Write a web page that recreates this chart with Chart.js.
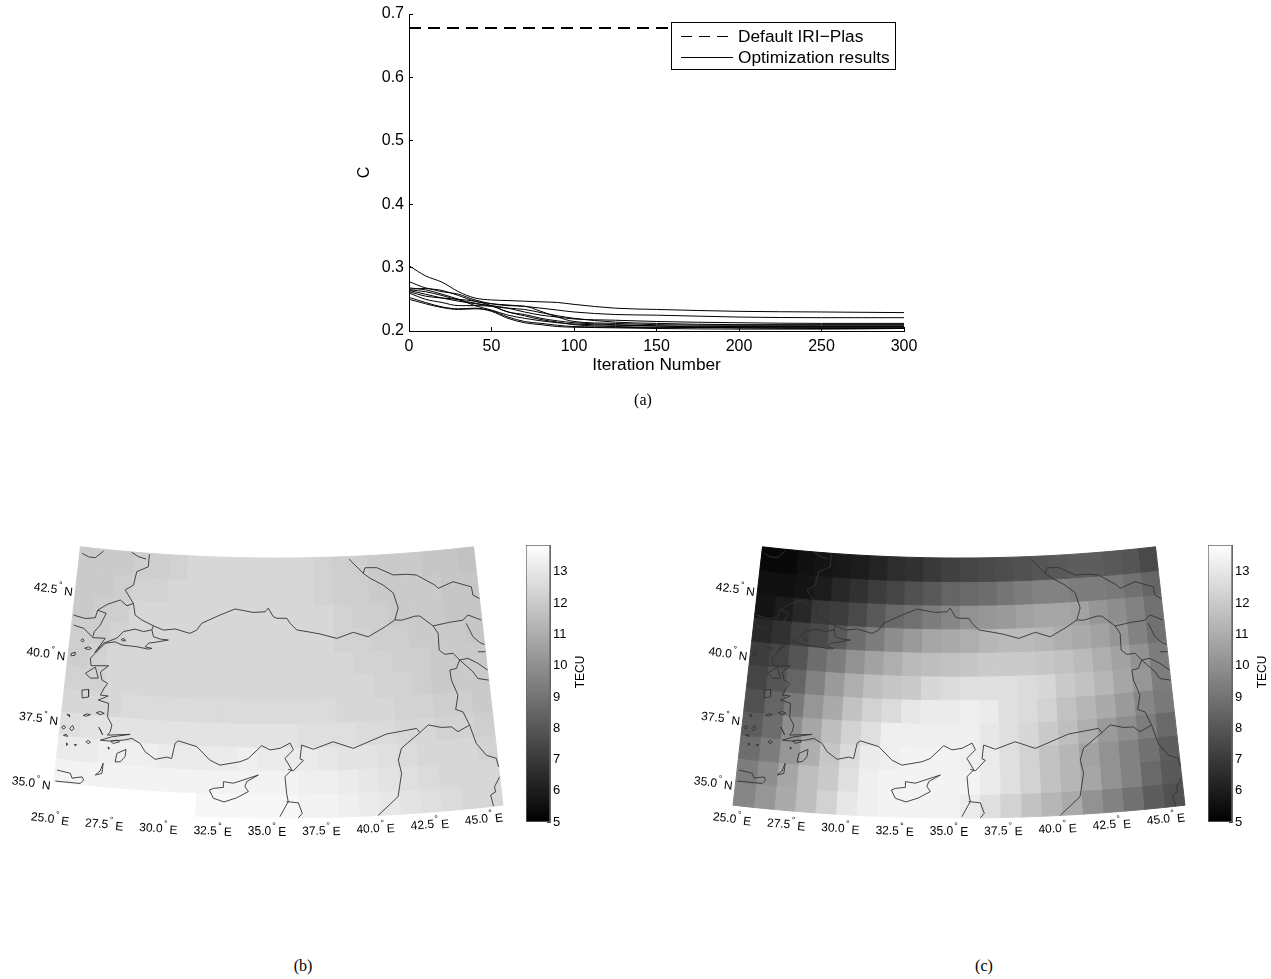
<!DOCTYPE html>
<html>
<head>
<meta charset="utf-8">
<style>
  body { margin: 0; background: #fff; }
  canvas { position: absolute; display: block; }
  .cap { position: absolute; font: 16px "Liberation Serif"; transform: translateX(-50%); }
</style>
<script src="https://cdn.jsdelivr.net/npm/chart.js@4"></script>
</head>
<body>
<canvas id="runs" width="1271" height="420" style="left:0;top:0"></canvas>
<div class="cap" style="left:643px;top:391px">(a)</div>
<canvas id="mapB" width="620" height="320" style="left:0;top:530px"></canvas>
<canvas id="barB" width="100" height="310" style="left:520px;top:530px"></canvas>
<canvas id="mapC" width="620" height="320" style="left:682px;top:530px"></canvas>
<canvas id="barC" width="100" height="310" style="left:1202px;top:530px"></canvas>
<div class="cap" style="left:303px;top:957px">(b)</div>
<div class="cap" style="left:984px;top:957px">(c)</div>
<script>
// panel (a): cost against iteration
const iterations = [0, 10, 20, 30, 40, 50, 60, 70, 80, 90, 100, 125, 150, 200, 250, 300];
const defaultIter = [0, 158];
const defaultC = [0.678, 0.678];
const runA = [.303, .287, .277, .262, .252, .249, .248, .247, .246, .245, .242, .236, .234, .231, .230, .229];
const runB = [.278, .268, .264, .256, .247, .243, .241, .239, .236, .233, .230, .226, .225, .222, .221, .221];
const runC = [.268, .265, .258, .250, .240, .233, .225, .220, .216, .213, .211, .209, .208, .207, .207, .207];
const runD = [.266, .267, .262, .258, .249, .243, .240, .239, .231, .222, .215, .212, .210, .209, .209, .209];
const runE = [.264, .258, .252, .247, .243, .240, .236, .230, .225, .222, .219, .217, .215, .213, .212, .212];
const runF = [.262, .255, .252, .250, .247, .240, .230, .226, .220, .216, .213, .210, .208, .205, .204, .204];
const runG = [.260, .250, .245, .240, .240, .239, .230, .224, .218, .214, .210, .207, .206, .205, .205, .205];
const runH = [.253, .245, .238, .235, .236, .231, .220, .213, .210, .207, .206, .205, .204, .203, .203, .204];
const runI = [.250, .243, .237, .234, .235, .232, .222, .215, .212, .209, .207, .206, .205, .206, .206, .206];
const runJ = [.265, .262, .256, .249, .244, .239, .236, .234, .229, .224, .220, .214, .212, .210, .210, .210];

// panels (b) and (c): TECU per grid cell, north row first, west column first
const tecB = [
  [12.1,12.1,12.1,12.2,12.2,12.3,12.4,12.4,12.4,12.4,12.4,12.4,12.4,12.3,12.2,12.2,12.1,12.1,12.1,11.9,11.9,11.8],
  [12.1,12.1,12.2,12.3,12.3,12.4,12.4,12.4,12.4,12.4,12.4,12.4,12.4,12.3,12.2,12.2,12.1,12.1,12.1,12.0,11.9,11.9],
  [12.1,12.2,12.2,12.4,12.4,12.4,12.4,12.4,12.4,12.4,12.4,12.4,12.4,12.4,12.3,12.2,12.2,12.1,12.1,12.0,11.9,11.9],
  [12.2,12.2,12.3,12.4,12.4,12.4,12.4,12.4,12.4,12.4,12.4,12.4,12.4,12.4,12.3,12.3,12.2,12.2,12.1,12.1,12.0,11.9],
  [12.2,12.3,12.4,12.4,12.4,12.5,12.5,12.5,12.5,12.5,12.5,12.5,12.5,12.4,12.4,12.3,12.3,12.2,12.2,12.1,12.1,12.0],
  [12.3,12.3,12.4,12.4,12.5,12.5,12.5,12.5,12.5,12.5,12.5,12.5,12.5,12.4,12.4,12.4,12.3,12.3,12.2,12.1,12.1,12.0],
  [12.5,12.5,12.5,12.6,12.6,12.6,12.6,12.6,12.6,12.6,12.6,12.6,12.6,12.6,12.5,12.4,12.4,12.3,12.3,12.2,12.2,12.1],
  [12.8,12.9,12.9,12.9,12.9,12.9,12.9,12.9,12.9,12.9,12.9,12.9,12.8,12.8,12.7,12.6,12.6,12.5,12.4,12.3,12.3,12.2],
  [13.2,13.2,13.3,13.3,13.3,13.2,13.2,13.2,13.2,13.3,13.2,13.1,13.1,13.0,12.9,12.9,12.7,12.6,12.5,12.4,12.4,12.3],
  [13.5,13.5,13.5,13.5,13.5,13.5,13.5,13.5,13.5,13.5,13.5,13.4,13.3,13.3,13.1,13.0,12.9,12.8,12.6,12.5,12.4,12.4],
  [13.86,13.86,13.86,13.86,13.86,13.86,13.86,13.6,13.6,13.6,13.6,13.6,13.5,13.5,13.3,13.1,13.0,12.9,12.7,12.6,12.4,12.4]
];
const tecC = [
  [5.3,5.3,5.5,5.7,5.9,6.0,6.3,6.6,6.7,7.0,7.2,7.4,7.6,7.7,7.8,8.0,8.1,8.3,8.3,8.1,8.0,7.6],
  [5.5,5.5,5.7,6.0,6.4,6.7,7.1,7.4,7.8,8.1,8.5,8.6,8.8,9.1,9.3,9.5,9.5,9.4,9.3,9.2,8.9,8.5],
  [5.7,6.0,6.4,6.9,7.1,7.6,8.1,8.6,9.0,9.3,9.7,10.0,10.2,10.4,10.6,10.7,10.7,10.6,10.2,9.9,9.5,9.0],
  [6.4,6.7,7.3,7.6,8.1,8.8,9.3,9.9,10.4,10.7,10.9,11.1,11.3,11.4,11.4,11.3,11.1,10.9,10.6,10.2,9.5,9.0],
  [7.1,7.4,8.0,8.8,9.3,10.0,10.6,11.1,11.4,11.6,11.8,11.9,12.1,12.1,12.1,11.9,11.8,11.4,11.1,10.6,10.0,9.3],
  [7.4,8.0,8.5,9.5,10.4,11.1,11.6,11.9,12.1,12.5,12.6,12.8,12.8,12.8,12.6,12.5,12.1,11.8,11.3,10.7,10.2,9.3],
  [7.8,8.5,9.2,10.2,10.9,11.8,12.3,12.6,13.0,13.2,13.2,13.3,13.2,12.8,12.6,12.3,11.8,11.3,10.9,10.4,9.7,9.2],
  [8.3,8.8,9.9,10.7,11.6,12.3,12.8,13.3,13.3,13.3,13.3,13.3,13.0,12.8,12.5,12.1,11.6,11.1,10.4,9.9,9.3,8.6],
  [8.8,9.3,10.2,11.1,11.9,12.6,13.2,13.3,13.5,13.5,13.5,13.3,13.2,12.8,12.3,11.8,11.3,10.6,10.0,9.5,9.0,8.3],
  [9.3,9.9,10.7,11.6,12.1,12.8,13.3,13.5,13.5,13.5,13.5,13.5,13.2,12.8,12.3,11.8,11.3,10.7,10.0,9.5,8.6,8.1],
  [9.7,10.2,10.9,11.6,12.3,13.0,13.3,13.5,13.5,13.5,13.5,13.2,12.8,12.3,11.8,11.3,10.9,10.0,9.5,9.0,8.3,7.8]
];
const lonTicks = [25, 27.5, 30, 32.5, 35, 37.5, 40, 42.5, 45];
const latTicks = [35, 37.5, 40, 42.5];
const tecuTicks = [5, 6, 7, 8, 9, 10, 11, 12, 13];

// coast and border lines, [lon, lat]
const borderLines = [
  [[25.12,43.76],[25.47,43.65],[25.81,43.65],[26.19,43.93]],
  [[27.62,43.98],[27.97,43.84],[28.37,43.77]],
  [[28.52,43.96],[28.51,43.48],[27.95,43.26],[27.84,42.73],[27.45,42.52],[27.91,42.03],[28.04,41.59],[28.39,41.42],[28.97,41.23]],
  [[25.05,41.36],[25.63,41.28],[26.11,41.35],[26.19,41.65],[26.64,41.91],[27.25,42.12],[27.60,41.92],[27.91,42.03]],
  [[26.19,41.65],[26.62,41.56],[26.39,41.09],[26.13,40.81],[26.09,40.62]],
  [[25.10,40.98],[25.60,40.90],[26.10,40.58],[26.69,40.60],[26.48,40.32],[26.26,40.02],[26.62,40.40],[27.25,40.65],[27.54,40.92],[28.09,41.05],[28.51,40.98],[28.91,41.07],[28.97,41.23]],
  [[28.97,41.23],[29.47,41.09],[30.03,41.16],[30.77,41.02],[31.09,41.16],[31.32,41.43],[32.20,41.77],[32.93,42.02],[33.83,41.90],[34.41,41.93],[34.57,42.07],[34.82,41.74],[35.0,41.68],[35.48,41.68],[35.64,41.49],[35.96,41.23],[36.52,41.15],[37.09,41.06],[37.90,40.87],[38.71,41.08],[39.43,40.88],[40.27,41.23],[40.77,41.47],[40.97,41.92],[40.78,42.51],[40.29,42.84],[39.66,43.13],[39.34,43.33],[38.65,43.9]],
  [[39.34,43.33],[39.44,43.54],[40.03,43.52],[40.84,43.20],[41.51,43.19],[42.00,43.13],[42.87,42.69],[43.02,42.55],[43.79,42.75],[44.67,42.48],[44.70,42.16],[45.0,42.0]],
  [[40.77,41.47],[41.10,41.44],[41.76,41.56],[42.0,41.55],[42.61,41.13],[43.43,41.21],[44.08,41.24],[44.35,41.42],[44.97,41.17]],
  [[42.61,41.13],[42.82,40.83],[42.80,40.18],[43.05,40.0],[43.45,40.01],[43.73,39.73],[44.30,39.23],[44.50,38.95],[45.0,38.84]],
  [[43.73,39.73],[44.13,39.76],[44.58,39.53],[45.0,39.23]],
  [[43.73,39.73],[43.54,39.42],[43.22,39.38],[43.25,38.99],[43.49,38.39],[43.32,37.85],[43.65,37.73],[43.89,37.20],[44.11,36.47],[44.51,35.98],[44.94,35.82],[45.0,35.48]],
  [[45.0,35.10],[44.72,34.74],[44.74,34.54],[44.51,34.44],[44.58,34.01]],
  [[43.89,37.20],[43.33,36.99],[43.05,37.20],[42.59,37.21],[41.99,37.35],[41.58,37.08],[41.44,37.25],[40.05,37.11],[38.49,36.62],[37.58,36.90],[36.66,36.63],[36.13,36.80],[36.05,36.27],[36.20,36.21],[35.74,35.81],[35.51,35.87]],
  [[41.58,37.08],[40.69,36.53],[40.51,36.08],[40.62,35.57],[40.40,34.68],[39.47,34.0]],
  [[28.34,36.85],[28.73,36.68],[28.98,36.38],[29.46,36.11],[29.98,36.22],[30.21,36.18],[30.33,36.77],[30.47,36.87],[31.33,36.68],[31.95,36.18],[32.41,36.0],[33.32,36.15],[33.69,36.28],[34.30,36.78],[34.68,36.62],[35.14,36.68],[35.6,36.88],[35.75,36.62],[35.36,36.29],[35.67,35.85],[35.36,35.59],[35.43,34.95],[35.50,34.63],[35.13,34.05]],
  [[35.43,34.63],[35.95,34.58],[36.12,34.17],[35.94,34.0]],
  [[28.91,41.07],[29.01,40.81],[29.34,40.74],[29.74,40.72],[29.10,40.60],[28.79,40.55],[28.64,40.40],[28.97,40.36],[28.81,40.32],[28.24,40.38],[27.52,40.40],[27.18,40.50],[26.71,40.41],[26.28,39.99],[26.07,39.78],[26.14,39.50],[26.97,39.56],[26.61,39.29],[26.72,38.99],[27.0,38.88],[26.86,38.69],[26.71,38.41],[27.08,38.40],[26.64,38.21],[27.13,38.12],[27.14,37.60],[27.37,37.30],[27.32,37.04],[27.21,36.90],[28.24,37.0],[27.42,36.85],[26.90,36.68],[27.33,36.68],[27.96,36.76],[28.34,36.85]],
  [[44.23,41.10],[44.36,40.83],[44.48,40.57],[44.77,40.32],[45.0,40.22]],
  [[44.64,39.97],[45.0,39.94]],
  // islands
  [[25.91,39.19],[26.35,39.46],[26.54,39.05],[26.16,39.02],[25.91,39.19]],
  [[25.83,38.53],[26.14,38.58],[26.17,38.29],[25.88,38.23],[25.83,38.53]],
  [[25.53,40.43],[25.61,40.50],[25.69,40.43],[25.61,40.37],[25.53,40.43]],
  [[25.75,40.14],[25.93,40.21],[26.08,40.16],[25.93,40.10],[25.75,40.14]],
  [[25.13,39.88],[25.33,39.95],[25.32,39.83],[25.18,39.80],[25.13,39.88]],
  [[27.47,40.62],[27.60,40.65],[27.68,40.58],[27.52,40.56],[27.47,40.62]],
  [[25.25,37.55],[25.40,37.52],[25.38,37.46],[25.25,37.55]],
  [[26.00,37.56],[26.18,37.64],[26.34,37.62],[26.16,37.55],[26.00,37.56]],
  [[26.60,37.72],[26.78,37.78],[26.97,37.72],[26.78,37.66],[26.60,37.72]],
  [[25.45,37.02],[25.57,37.14],[25.65,37.02],[25.54,36.93],[25.45,37.02]],
  [[25.08,37.03],[25.18,37.11],[25.26,37.03],[25.16,36.96],[25.08,37.03]],
  [[25.20,36.72],[25.32,36.78],[25.40,36.70],[25.20,36.72]],
  [[26.78,37.17],[26.88,37.05],[26.98,36.90],[26.90,37.02],[26.78,37.17]],
  [[26.26,36.57],[26.36,36.63],[26.46,36.57],[26.36,36.50],[26.26,36.57]],
  [[25.38,36.45],[25.45,36.40],[25.38,36.35],[25.38,36.45]],
  [[25.74,36.42],[25.84,36.42],[25.80,36.36],[25.74,36.42]],
  [[27.28,36.44],[27.35,36.42],[27.32,36.36],[27.28,36.44]],
  [[27.38,36.67],[27.65,36.74],[27.78,36.68],[27.50,36.60],[27.38,36.67]],
  [[27.66,35.90],[27.71,36.23],[28.11,36.41],[28.09,36.13],[27.89,35.92],[27.66,35.90]],
  [[27.13,35.81],[27.11,35.41],[26.82,35.33],[27.02,35.50],[27.13,35.81]],
  [[25.09,35.37],[25.70,35.30],[25.80,35.12],[26.24,35.21],[26.32,35.09],[26.19,34.95],[25.07,34.94]],
  [[34.16,35.65],[33.64,35.39],[33.56,35.20],[33.72,35.01],[33.20,34.76],[32.64,34.59],[32.16,34.72],[31.97,35.03],[32.15,35.10],[32.59,35.15],[32.59,35.37],[33.04,35.32],[34.16,35.65]]
];

Chart.defaults.font.family = '"Liberation Sans"';
Chart.defaults.color = '#000';

// conic projection of the maps, plane units are the size of one pixel
const coneN = 0.65;
function project(lon, lat) {
  const r = 1736 + 26 * (44 - lat);
  const a = coneN * (lon - 35) * Math.PI / 180;
  return { x: r * Math.sin(a), y: -r * Math.cos(a) };
}
function tecuGray(v) {
  const level = Math.round((v - 5) / 8.86 * 63) / 63;
  const g = Math.round(255 * Math.min(1, Math.max(0, level)));
  return 'rgb(' + g + ',' + g + ',' + g + ')';
}

const runSeries = [runA, runB, runC, runD, runE, runF, runG, runH, runI, runJ];
const zip = (xs, vals) => vals.map((v, i) => ({ x: xs[i], y: v }));

const runsLegend = {
  id: 'runsLegend',
  afterDraw(chart) {
    const c = chart.ctx;
    c.save();
    c.fillStyle = '#fff';
    c.strokeStyle = '#000';
    c.lineWidth = 1;
    c.fillRect(671.5, 22.5, 224, 47);
    c.strokeRect(671.5, 22.5, 224, 47);
    c.beginPath();
    c.setLineDash([11, 7]);
    c.moveTo(681, 36.5);
    c.lineTo(733, 36.5);
    c.stroke();
    c.setLineDash([]);
    c.beginPath();
    c.moveTo(681, 57.5);
    c.lineTo(733, 57.5);
    c.stroke();
    c.fillStyle = '#000';
    c.font = '17.3px "Liberation Sans"';
    c.textBaseline = 'middle';
    c.fillText('Default IRI\u2212Plas', 738, 37);
    c.fillText('Optimization results', 738, 58);
    c.restore();
  }
};

new Chart(document.getElementById('runs'), {
  type: 'line',
  data: {
    datasets: [
      { label: 'Default IRI-Plas', data: zip(defaultIter, defaultC), borderColor: '#000', borderWidth: 2, borderDash: [12, 7], pointRadius: 0 }
    ].concat(runSeries.map(s => ({
      label: 'Optimization results', data: zip(iterations, s), borderColor: '#000', borderWidth: 1, pointRadius: 0, cubicInterpolationMode: 'monotone'
    })))
  },
  options: {
    responsive: false,
    animation: false,
    events: [],
    layout: { padding: { left: 355, right: 367, top: 14, bottom: 44 } },
    plugins: { legend: { display: false }, tooltip: { enabled: false } },
    scales: {
      x: {
        type: 'linear', min: 0, max: 300,
        ticks: { stepSize: 50, maxRotation: 0, padding: 10, font: { size: 16 } },
        grid: { drawOnChartArea: false, tickLength: -4, color: '#000' },
        border: { color: '#000' },
        title: { display: true, text: 'Iteration Number', font: { size: 17.3 }, padding: 0 },
        afterFit(s) { s.height = 45; s.paddingLeft = 0; s.paddingRight = 0; }
      },
      y: {
        min: 0.2, max: 0.7,
        ticks: { stepSize: 0.1, padding: 9, font: { size: 16 }, callback: v => v.toFixed(1) },
        grid: { drawOnChartArea: false, tickLength: -4, color: '#000' },
        border: { color: '#000' },
        title: { display: true, text: 'C', font: { size: 16 }, padding: 0 },
        afterFit(s) { s.width = 54; s.paddingTop = 0; s.paddingBottom = 0; }
      }
    }
  },
  plugins: [runsLegend]
});

// degree labels around the map edge, rotated with the grid
function degreeLabel(c, value, letter, px, py, deg, anchorRight) {
  c.save();
  c.translate(px, py);
  c.rotate(deg * Math.PI / 180);
  c.font = '12px "Liberation Sans"';
  c.textBaseline = 'middle';
  const t = value.toFixed(1);
  const w = c.measureText(t).width;
  const total = w + 15;
  const x0 = anchorRight ? -total : -total / 2;
  c.fillText(t, x0, 0);
  c.font = '9px "Liberation Sans"';
  c.fillText('\u00b0', x0 + w + 1, -5);
  c.font = '12px "Liberation Sans"';
  c.fillText(letter, x0 + w + 7, 1);
  c.restore();
}
const mapLabels = {
  id: 'mapLabels',
  afterDraw(chart) {
    const c = chart.ctx;
    const sx = chart.scales.x, sy = chart.scales.y;
    c.save();
    c.fillStyle = '#000';
    lonTicks.forEach(lon => {
      const p = project(lon, 34);
      degreeLabel(c, lon, 'E', sx.getPixelForValue(p.x) - 10 - 0.9 * (lon - 35), sy.getPixelForValue(p.y) + 14, -coneN * (lon - 35), false);
    });
    latTicks.forEach(lat => {
      const p = project(25, lat);
      degreeLabel(c, lat, 'N', sx.getPixelForValue(p.x) - 4, sy.getPixelForValue(p.y) + 6, coneN * 10, true);
    });
    c.restore();
  }
};

function drawMap(id, grid) {
  const cols = grid[0].length, rows = grid.length;
  const lonAt = i => 25 + i * 20 / cols;
  const latAt = j => 44 - j * 10 / rows;
  const cells = [];
  grid.forEach((row, j) => row.forEach((v, i) => {
    const col = tecuGray(v);
    cells.push({
      data: [project(lonAt(i), latAt(j)), project(lonAt(i + 1), latAt(j)), project(lonAt(i + 1), latAt(j + 1)), project(lonAt(i), latAt(j + 1)), project(lonAt(i), latAt(j))],
      showLine: true, fill: 'shape', backgroundColor: col, borderColor: col, borderWidth: 1, pointRadius: 0, order: 2
    });
  }));
  const lines = borderLines.map(l => ({
    data: l.map(p => project(p[0], p[1])),
    showLine: true, fill: false, borderColor: '#333', borderWidth: 0.9, pointRadius: 0, order: 1
  }));
  new Chart(document.getElementById(id), {
    type: 'scatter',
    data: { datasets: cells.concat(lines) },
    options: {
      responsive: false,
      animation: false,
      events: [],
      plugins: { legend: { display: false }, tooltip: { enabled: false } },
      scales: {
        x: { display: false, min: -277, max: 343 },
        y: { display: false, min: -2028, max: -1708 }
      }
    },
    plugins: [mapLabels]
  });
}

function drawColorbar(id) {
  new Chart(document.getElementById(id), {
    type: 'bar',
    data: {
      labels: ['TECU'],
      datasets: [{
        data: [[5, 13.86]],
        barPercentage: 1,
        categoryPercentage: 1,
        borderWidth: 1,
        borderColor: '#666',
        borderSkipped: false,
        backgroundColor(ctx) {
          const a = ctx.chart.chartArea;
          if (!a) return '#888';
          const g = ctx.chart.ctx.createLinearGradient(0, a.bottom, 0, a.top);
          g.addColorStop(0, '#000');
          g.addColorStop(1, '#fff');
          return g;
        }
      }]
    },
    options: {
      responsive: false,
      animation: false,
      events: [],
      layout: { padding: { left: 6, top: 15, bottom: 18 } },
      plugins: { legend: { display: false }, tooltip: { enabled: false } },
      scales: {
        x: { display: false },
        y: {
          position: 'right', min: 5, max: 13.86,
          afterBuildTicks(s) { s.ticks = tecuTicks.map(v => ({ value: v })); },
          ticks: { padding: 6, font: { size: 13 }, callback: v => v },
          grid: { drawOnChartArea: false, tickLength: -3, color: '#444' },
          border: { color: '#666' },
          afterFit(s) { s.width = 70; }
        }
      }
    },
    plugins: [{
      id: 'barTitle',
      afterDraw(chart) {
        const c = chart.ctx;
        c.save();
        c.translate(61, 142);
        c.rotate(-Math.PI / 2);
        c.font = '12px "Liberation Sans"';
        c.textAlign = 'center';
        c.textBaseline = 'middle';
        c.fillStyle = '#000';
        c.fillText('TECU', 0, 0);
        c.restore();
      }
    }]
  });
}

drawMap('mapB', tecB);
drawMap('mapC', tecC);
drawColorbar('barB');
drawColorbar('barC');
</script>
</body>
</html>
